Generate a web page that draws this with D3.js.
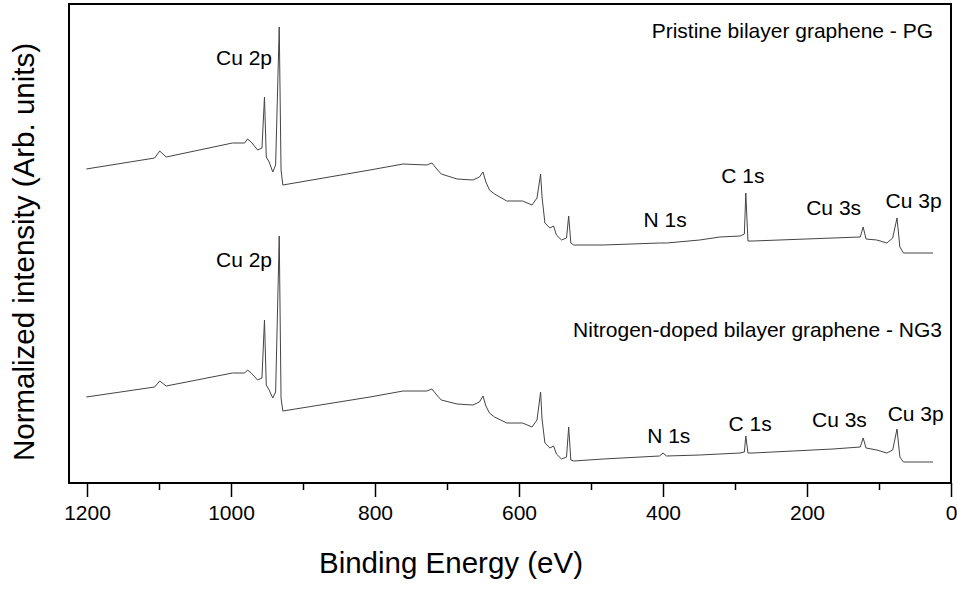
<!DOCTYPE html>
<html>
<head>
<meta charset="utf-8">
<script src="https://cdn.jsdelivr.net/npm/d3@7.9.0/dist/d3.min.js"></script>
<style>
  body { margin: 0; background: #fff; }
  text { font-family: "Liberation Sans", Arial, sans-serif; fill: #000; }
</style>
</head>
<body>
<svg id="chart"></svg>
<script>
// binding energy grid (eV), shared by both spectra
const bindingEnergy = [1201, 1106, 1099, 1090, 998, 981, 977, 972, 963, 957, 953.5, 951, 947, 942, 938,
  933, 930.5, 928, 807, 761, 728, 721, 713, 708, 686, 664, 655, 650, 646, 641, 634, 617, 595, 582,
  575, 570, 568, 564, 557, 552, 548, 541, 534, 531, 528, 524, 483, 405, 400, 395, 349, 321, 293,
  287, 285, 282, 275, 164, 126, 122, 118, 103, 89, 81, 75, 71, 66, 25];

// pristine bilayer graphene (PG), arb. units
const pgIntensity = [78.5, 81.25, 83, 81.5, 85, 85, 86, 85.25, 83.25, 83.75, 96.5, 81.5, 80.25, 77.75, 79.5,
  114, 78.25, 74.5, 78.25, 79.75, 79.5, 80, 78.25, 77.25, 76, 75.75, 76.5, 77.75, 75.25, 73.25, 72.25, 70.5, 70.5, 69.5,
  71.25, 77.25, 71.5, 65, 63.75, 64.25, 62, 60.75, 61.25, 66.75, 60, 59.5, 59.5, 60, 60, 60, 60.75, 61.5, 61.75,
  62.25, 72.5, 60.5, 60.5, 61.25, 61.5, 64, 61, 60.75, 60, 61.25, 66.25, 59, 57.5, 57.5];

// nitrogen-doped bilayer graphene (NG3), arb. units
const ng3Intensity = [21.5, 24, 25.5, 24.25, 27.5, 27.5, 28.25, 27.5, 25.75, 26.25, 40.75, 24.5, 23.25, 21.25, 22.75,
  61.75, 21.25, 18, 21.5, 23, 23, 23.5, 21.75, 20.75, 19.75, 19.5, 20.25, 21.75, 19.25, 17.5, 16.5, 15, 15, 14,
  15.75, 22.75, 16, 10, 8.75, 9.25, 7.25, 6, 6.5, 14, 5.75, 5.5, 6, 6.75, 7.5, 6.75, 7, 7.25, 7.5,
  7.75, 11.75, 7.5, 7.5, 8.5, 9, 11.25, 8.75, 8.25, 7.5, 8.25, 13.5, 6.5, 5.25, 5.25];

const majorTicks = [1200, 1000, 800, 600, 400, 200, 0];
const minorTicks = [1100, 900, 700, 500, 300, 100];

// peak labels: text, energy, intensity of the baseline, anchor
const peakLabels = [
  {text: "Cu 2p", e: 943, v: 104.5, anchor: "end"},
  {text: "N 1s", e: 397, v: 64, anchor: "middle"},
  {text: "C 1s", e: 289, v: 75, anchor: "middle"},
  {text: "Cu 3s", e: 163, v: 67, anchor: "middle"},
  {text: "Cu 3p", e: 52, v: 68.75, anchor: "middle"},
  {text: "Cu 2p", e: 943, v: 54, anchor: "end"},
  {text: "N 1s", e: 392, v: 10, anchor: "middle"},
  {text: "C 1s", e: 279, v: 13, anchor: "middle"},
  {text: "Cu 3s", e: 155, v: 14, anchor: "middle"},
  {text: "Cu 3p", e: 49, v: 15.5, anchor: "middle"}
];
const sampleLabels = [
  {text: "Pristine bilayer graphene - PG", e: 25, v: 111.25},
  {text: "Nitrogen-doped bilayer graphene - NG3", e: 12.5, v: 36.5}
];

const W = 957, H = 590;
const plot = {left: 69, right: 951, top: 4, bottom: 483};

const svg = d3.select("#chart").attr("width", W).attr("height", H);

const x = d3.scaleLinear().domain([1225, 0]).range([plot.left, plot.right]);
const y = d3.scaleLinear().domain([0, 120]).range([plot.bottom, 3]);

const line = d3.line()
  .x(d => x(d[0]))
  .y(d => y(d[1]));

[pgIntensity, ng3Intensity].forEach(series => {
  svg.append("path")
    .datum(bindingEnergy.map((e, i) => [e, series[i]]))
    .attr("d", line)
    .attr("fill", "none")
    .attr("stroke", "#444")
    .attr("stroke-width", 1);
});

// frame
svg.append("rect")
  .attr("x", plot.left).attr("y", plot.top)
  .attr("width", plot.right - plot.left).attr("height", plot.bottom - plot.top)
  .attr("fill", "none").attr("stroke", "#000").attr("stroke-width", 2);

// bottom axis, major + minor ticks
const xAxis = svg.append("g")
  .attr("transform", `translate(0,${plot.bottom})`)
  .call(d3.axisBottom(x).tickValues(majorTicks).tickSize(14).tickPadding(8).tickFormat(d3.format("d")));
xAxis.select(".domain").remove();
xAxis.selectAll("line").attr("stroke-width", 1.5);
xAxis.selectAll("text").style("font-size", "21px").attr("fill", "#000");

const xMinor = svg.append("g")
  .attr("transform", `translate(0,${plot.bottom})`)
  .call(d3.axisBottom(x).tickValues(minorTicks).tickSize(7).tickFormat(""));
xMinor.select(".domain").remove();
xMinor.selectAll("line").attr("stroke-width", 1.5);

// axis titles
svg.append("text")
  .attr("x", 451).attr("y", 573)
  .attr("text-anchor", "middle")
  .style("font-size", "29.5px")
  .text("Binding Energy (eV)");

svg.append("text")
  .attr("transform", "translate(34,252) rotate(-90)")
  .attr("text-anchor", "middle")
  .style("font-size", "29.5px")
  .text("Normalized intensity (Arb. units)");

// annotations
svg.selectAll(".peak")
  .data(peakLabels)
  .enter().append("text")
  .attr("class", "peak")
  .attr("x", d => x(d.e))
  .attr("y", d => y(d.v))
  .attr("text-anchor", d => d.anchor)
  .style("font-size", "21px")
  .text(d => d.text);

svg.selectAll(".sample")
  .data(sampleLabels)
  .enter().append("text")
  .attr("class", "sample")
  .attr("x", d => x(d.e))
  .attr("y", d => y(d.v))
  .attr("text-anchor", "end")
  .style("font-size", "21px")
  .text(d => d.text);
</script>
</body>
</html>
